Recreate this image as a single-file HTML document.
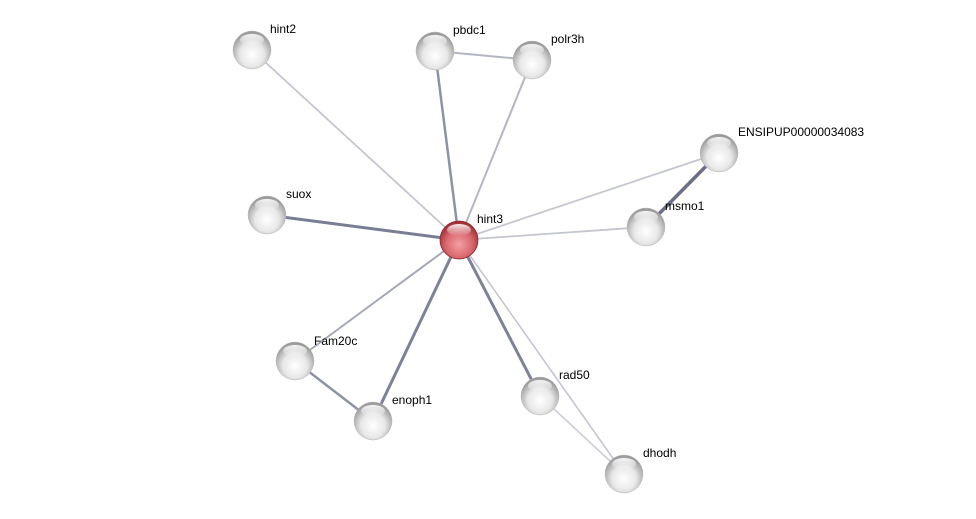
<!DOCTYPE html>
<html><head><meta charset="utf-8"><style>
html,body{margin:0;padding:0;background:#fff;}
svg{display:block;}
text{font-family:"Liberation Sans",sans-serif;font-size:12px;fill:#000;}
</style></head><body>
<svg width="976" height="519" viewBox="0 0 976 519" xmlns="http://www.w3.org/2000/svg">
<defs>
<radialGradient id="g" cx="50%" cy="62%" r="58%">
<stop offset="0" stop-color="#ffffff"/><stop offset="0.55" stop-color="#e8e8e8"/><stop offset="1" stop-color="#9a9a9a"/>
</radialGradient>
<radialGradient id="r" cx="50%" cy="62%" r="58%">
<stop offset="0" stop-color="#f4a0a4"/><stop offset="0.6" stop-color="#d7686e"/><stop offset="1" stop-color="#a03036"/>
</radialGradient>
<linearGradient id="hl" x1="0" y1="0" x2="0" y2="1">
<stop offset="0" stop-color="#fff" stop-opacity="0.9"/><stop offset="1" stop-color="#fff" stop-opacity="0"/>
</linearGradient>
</defs>
<g stroke-linecap="round">
<line x1="459" y1="240" x2="252" y2="50" stroke="#c4c6d0" stroke-width="1.8"/>
<line x1="459" y1="240" x2="435" y2="51" stroke="#8e92a6" stroke-width="2.5"/>
<line x1="459" y1="240" x2="532" y2="60" stroke="#b4b6c4" stroke-width="2"/>
<line x1="435" y1="51" x2="532" y2="60" stroke="#b4b6c4" stroke-width="2"/>
<line x1="459" y1="240" x2="719" y2="153" stroke="#c4c6d0" stroke-width="1.8"/>
<line x1="646" y1="227" x2="719" y2="153" stroke="#6a6e86" stroke-width="3.5"/>
<line x1="459" y1="240" x2="646" y2="227" stroke="#c4c6d0" stroke-width="1.8"/>
<line x1="459" y1="240" x2="267" y2="215" stroke="#7a7e94" stroke-width="3"/>
<line x1="459" y1="240" x2="295" y2="361" stroke="#a4a8b8" stroke-width="2"/>
<line x1="459" y1="240" x2="373" y2="421" stroke="#7e8298" stroke-width="3"/>
<line x1="295" y1="361" x2="373" y2="421" stroke="#8e92a6" stroke-width="2.5"/>
<line x1="459" y1="240" x2="540" y2="396" stroke="#7e8298" stroke-width="3"/>
<line x1="459" y1="240" x2="624" y2="474" stroke="#c4c6d0" stroke-width="1.6"/>
<line x1="540" y1="396" x2="624" y2="474" stroke="#ccced8" stroke-width="1.6"/>
</g>
<g>
<g transform="translate(252,50)"><circle r="19" fill="url(#g)" stroke="#bbb" stroke-width="0.5"/><ellipse cx="0" cy="-10" rx="12" ry="6" fill="url(#hl)"/></g>
<g transform="translate(435,51)"><circle r="19" fill="url(#g)" stroke="#bbb" stroke-width="0.5"/><ellipse cx="0" cy="-10" rx="12" ry="6" fill="url(#hl)"/></g>
<g transform="translate(532,60)"><circle r="19" fill="url(#g)" stroke="#bbb" stroke-width="0.5"/><ellipse cx="0" cy="-10" rx="12" ry="6" fill="url(#hl)"/></g>
<g transform="translate(719,153)"><circle r="19" fill="url(#g)" stroke="#bbb" stroke-width="0.5"/><ellipse cx="0" cy="-10" rx="12" ry="6" fill="url(#hl)"/></g>
<g transform="translate(267,215)"><circle r="19" fill="url(#g)" stroke="#bbb" stroke-width="0.5"/><ellipse cx="0" cy="-10" rx="12" ry="6" fill="url(#hl)"/></g>
<g transform="translate(646,227)"><circle r="19" fill="url(#g)" stroke="#bbb" stroke-width="0.5"/><ellipse cx="0" cy="-10" rx="12" ry="6" fill="url(#hl)"/></g>
<g transform="translate(295,361)"><circle r="19" fill="url(#g)" stroke="#bbb" stroke-width="0.5"/><ellipse cx="0" cy="-10" rx="12" ry="6" fill="url(#hl)"/></g>
<g transform="translate(373,421)"><circle r="19" fill="url(#g)" stroke="#bbb" stroke-width="0.5"/><ellipse cx="0" cy="-10" rx="12" ry="6" fill="url(#hl)"/></g>
<g transform="translate(540,396)"><circle r="19" fill="url(#g)" stroke="#bbb" stroke-width="0.5"/><ellipse cx="0" cy="-10" rx="12" ry="6" fill="url(#hl)"/></g>
<g transform="translate(624,474)"><circle r="19" fill="url(#g)" stroke="#bbb" stroke-width="0.5"/><ellipse cx="0" cy="-10" rx="12" ry="6" fill="url(#hl)"/></g>
<g transform="translate(459,240)"><circle r="19" fill="url(#r)" stroke="#8a2a30" stroke-width="0.8"/><ellipse cx="0" cy="-10" rx="12" ry="6" fill="url(#hl)"/></g>
</g>
<text x="270" y="33">hint2</text>
<text x="453" y="34">pbdc1</text>
<text x="551" y="43">polr3h</text>
<text x="738" y="136">ENSIPUP00000034083</text>
<text x="286" y="198">suox</text>
<text x="477" y="223">hint3</text>
<text x="665" y="210">msmo1</text>
<text x="314" y="345">Fam20c</text>
<text x="392" y="404">enoph1</text>
<text x="559" y="379">rad50</text>
<text x="643" y="457">dhodh</text>
</svg>
</body></html>
